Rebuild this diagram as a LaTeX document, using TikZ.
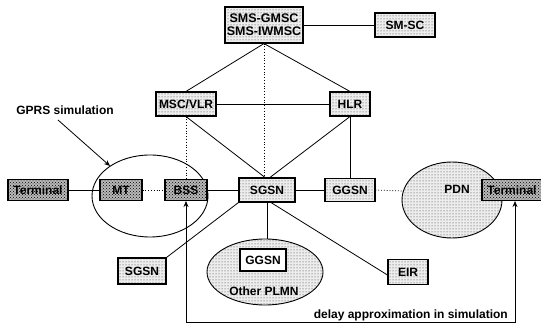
\documentclass[tikz,border=0pt]{standalone}
\usepackage{fontspec}
\setmainfont{Liberation Sans}
\usetikzlibrary{patterns,arrows.meta}
\begin{document}
\begin{tikzpicture}[x=1pt,y=-1pt,
  every node/.style={font=\fontsize{12}{13}\selectfont\bfseries, inner sep=1pt},
  lbox/.style={draw, line width=1.1pt, preaction={fill=black!7}, pattern=dots, pattern color=black!80, minimum height=24pt},
  dbox/.style={draw, line width=1.1pt, preaction={fill=gray!55}, pattern=crosshatch dots, pattern color=black, minimum height=21pt},
  wbox/.style={draw, line width=1.1pt, fill=white, minimum height=22pt},
  lell/.style={draw, line width=0.9pt, preaction={fill=black!7}, pattern=dots, pattern color=black!80},
  conn/.style={line width=0.8pt},
  dconn/.style={line width=0.8pt, dotted},
  arr/.style={line width=0.8pt, -{Stealth[length=6pt,width=5pt]}}
]
\useasboundingbox (0,0) rectangle (541,328);
% ellipses
\draw[line width=0.9pt] (150,196) ellipse [x radius=58, y radius=41];
\path[lell] (452,200) ellipse [x radius=50, y radius=38];
\path[lell] (265,272) ellipse [x radius=58, y radius=33];
\coordinate (pdnW) at (403,191);
\coordinate (plmnN) at (266,239);
\node (pdn) at (457,189) {PDN};
\node (oplmn) at (264,291) {Other PLMN};

% nodes
\node[lbox, minimum width=78pt, minimum height=36pt, align=center, font=\fontsize{12.5}{14}\selectfont\bfseries] (sms) at (264,25) {SMS-GMSC\\[-1pt]SMS-IWMSC};
\node[lbox, minimum width=60pt] (smsc) at (405,25) {SM-SC};
\node[lbox, minimum width=60pt] (msc) at (186,104) {MSC/VLR};
\node[lbox, minimum width=40pt] (hlr) at (350,104) {HLR};
\node[dbox, minimum width=60pt] (termL) at (38,190) {Terminal};
\node[dbox, minimum width=42pt] (mt) at (121,190) {MT};
\node[dbox, minimum width=42pt] (bss) at (186,190) {BSS};
\node[lbox, minimum width=56pt] (sgsn) at (267,190) {SGSN};
\node[lbox, minimum width=50pt, minimum height=23pt] (ggsn) at (350,190) {GGSN};
\node[dbox, minimum width=60pt] (termR) at (512,190) {Terminal};
\node[lbox, minimum width=48pt, minimum height=26pt] (sgsn2) at (142,271) {SGSN};
\node[wbox, minimum width=46pt] (ggsn2) at (263,260) {GGSN};
\node[lbox, minimum width=40pt, minimum height=25pt] (eir) at (408,272) {EIR};
\node (gprs) at (65,110) {GPRS simulation};
\node[anchor=east] (delay) at (509,315) {delay approximation in simulation};

% connectors
\draw[conn] (sms) -- (smsc);
\draw[conn] (sms.south) -- (msc.north);
\draw[conn] (sms.south) -- (hlr.north);
\draw[dconn] (sms.south) -- (sms.south |- sgsn.north);
\draw[conn] (msc) -- (hlr);
\draw[conn] (msc.south) -- ([xshift=-2]sgsn.north);
\draw[conn] (hlr.south) -- ([xshift=3]sgsn.north);
\draw[dconn] (msc.south) -- (bss.north);
\draw[conn] (hlr.south) -- (ggsn.north);
\draw[conn] (termL) -- (mt);
\draw[dconn] (mt) -- (bss);
\draw[conn] (bss) -- (sgsn);
\draw[conn] (sgsn) -- (ggsn);
\draw[dconn] (ggsn.east) -- (pdnW);
\draw[conn] (sgsn.south west) -- (sgsn2.north east);
\draw[conn] (sgsn.south) -- (sgsn.south |- plmnN);
\draw[conn] ([xshift=4]sgsn.south) -- ([yshift=-3]eir.west);
\coordinate (dl) at (0,322);
\coordinate (gs) at (58,120);
\coordinate (ge) at (110,166);
\draw[arr] (gs) -- (ge);
\draw[line width=0.8pt, {Stealth[length=6pt,width=5pt]}-{Stealth[length=6pt,width=5pt]}] (bss.south) -- (bss.south |- dl) -| ([xshift=3]termR.south);
\end{tikzpicture}
\end{document}
